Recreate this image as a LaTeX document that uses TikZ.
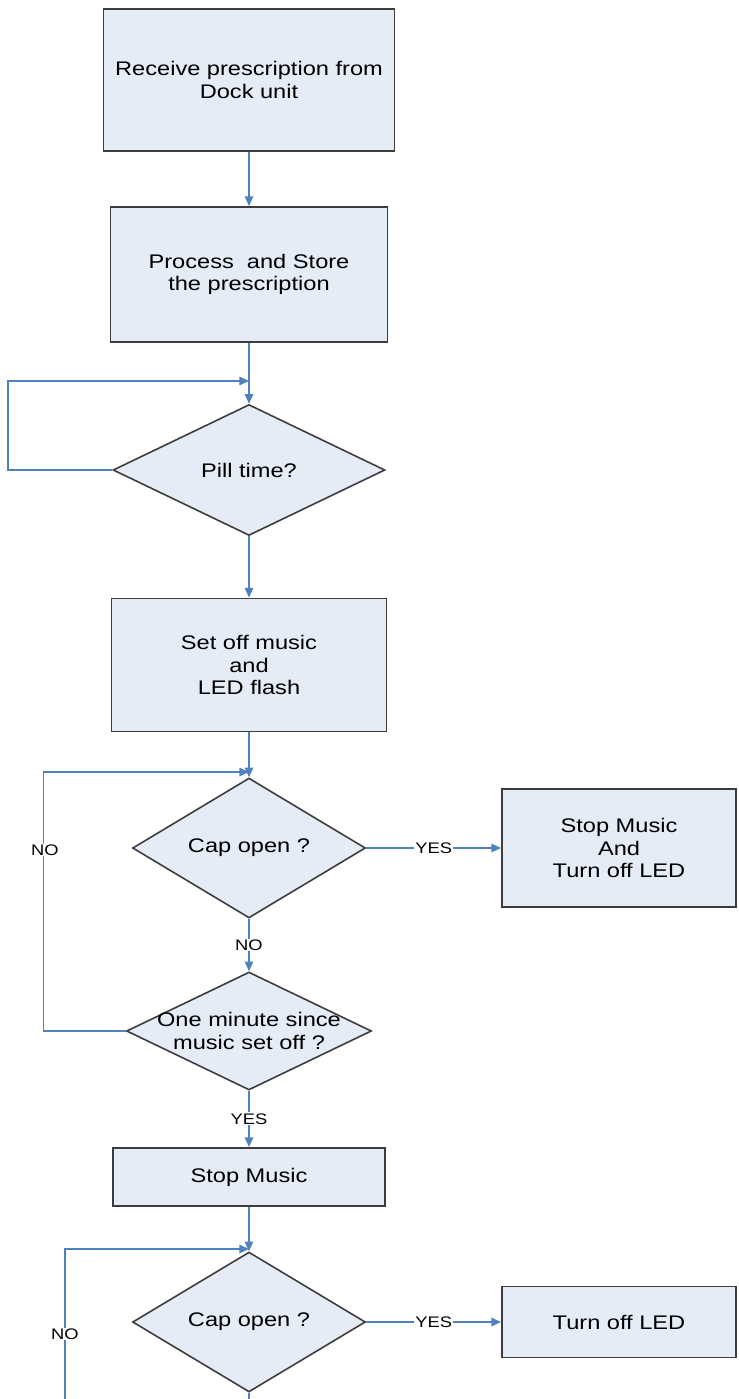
\documentclass[tikz,border=0pt]{standalone}
\usepackage{fontspec}
\setmainfont{Liberation Sans}[FakeStretch=1.2]
\usepackage{xcolor}
\usepackage{tikz}
\usetikzlibrary{
  arrows.meta,
  positioning,
  shapes.geometric,
  calc}
\definecolor{boxfill}{HTML}{E6ECF6}
\definecolor{boxline}{HTML}{3C3C3C}
\definecolor{flowblue}{HTML}{4F81BD}
\tikzset{every picture/.style={font issue=\fontsize{11.2}{12.8}},
         font issue/.style={execute at begin picture={#1\selectfont}},
         procbox/.style={rectangle, draw=boxline, fill=boxfill, line width=1.1pt,
                         align=center, inner sep=0pt},
         decision/.style={diamond, draw=boxline, fill=boxfill, line width=0.9pt,
                          align=center, inner sep=0pt},
         flow/.style={draw=flowblue, line width=0.85pt,
                      -{Triangle[length=5.5pt,width=4.8pt]}},
         flowline/.style={draw=flowblue, line width=0.85pt},
         lbl/.style={fill=white, inner sep=0.6pt, font=\fontsize{8.7}{10}\selectfont}
        }
\begin{document}
\begin{tikzpicture}[x=0.02cm, y=-0.02cm]
\useasboundingbox (0,0) rectangle (738,1399);
\node[procbox, minimum width=5.82cm, minimum height=2.84cm] at (249,80)(recv){Receive prescription from\\Dock unit};
\node[procbox, minimum width=5.54cm, minimum height=2.7cm] at (249,274.5)(store){Process~ and Store\\the prescription};
\node[decision, minimum width=5.44cm, minimum height=2.62cm] at (249,470)(pill){Pill time?};
\node[procbox, minimum width=5.5cm, minimum height=2.66cm] at (249,665)(music){Set off music\\and\\LED flash};
\node[decision, minimum width=4.66cm, minimum height=2.24cm] at (249,848)(capA){Cap open ?};
\node[procbox, minimum width=4.68cm, minimum height=2.36cm] at (619,848)(stopall){Stop Music\\And\\Turn off LED};
\node[decision, minimum width=4.9cm, minimum height=2.36cm,
      label={[align=center]center:One minute since\\music set off ?}] at (249,1031)(minute){};
\node[procbox, minimum width=5.44cm, minimum height=1.16cm] at (249,1177)(stop){Stop Music};
\node[decision, minimum width=4.66cm, minimum height=2.26cm] at (249,1322)(capB){Cap open ?};
\node[procbox, minimum width=4.68cm, minimum height=1.42cm] at (619,1322)(led){Turn off LED};

\coordinate (j1) at (249,381);
\coordinate (j2) at (249,772);
\coordinate (j3) at (249,1249);
\coordinate (cutA) at (249,1399);
\coordinate (cutB) at (65,1399);

\draw[flow] (recv) -- (store);
\draw[flow] (store) -- (pill);
\draw[flow] (pill.west) -- ++(-104,0) |- (j1);
\draw[flow] (pill) -- (music);
\draw[flow] (music) -- (capA);
\draw[flow] (capA) -- node[lbl](yesA){YES} (stopall);
\draw[flow] (capA) -- node[lbl](noA){NO} (minute);
\draw[flow] (minute.west) -- ++(-82,0) |- (j2);
\node[lbl] at (45,850)(noloopA){NO};
\draw[flow] (minute) -- node[lbl](yesB){YES} (stop);
\draw[flow] (stop) -- (capB);
\draw[flow] (cutB) |- (j3);
\node[lbl] at (65,1334)(noloopB){NO};
\draw[flow] (capB) -- node[lbl](yesC){YES} (led);
\draw[flowline] (capB) -- (cutA);
\end{tikzpicture}
\end{document}
